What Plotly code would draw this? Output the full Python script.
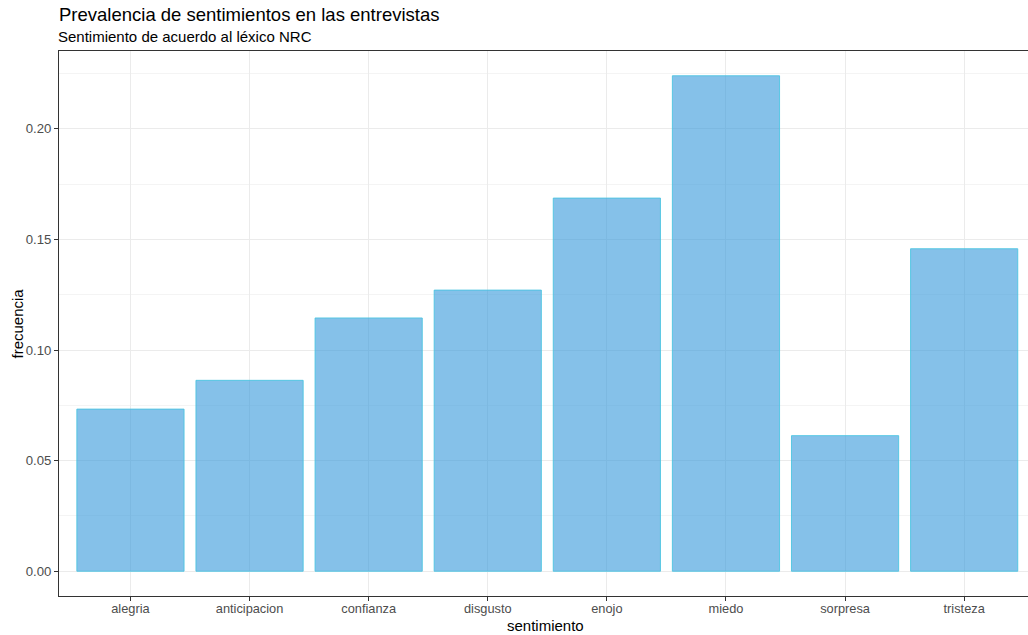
import plotly.graph_objects as go

categorias = ["alegria", "anticipacion", "confianza", "disgusto", "enojo", "miedo", "sorpresa", "tristeza"]
frecuencia = [0.0733, 0.0863, 0.1145, 0.1271, 0.1687, 0.2240, 0.0613, 0.1458]
y_ticks = [0.00, 0.05, 0.10, 0.15, 0.20]
y_ticklabels = ["0.00", "0.05", "0.10", "0.15", "0.20"]

FONT = "Liberation Sans, Arial, sans-serif"
W, H = 1040, 635   # panel runs past the 1028px window, as in the reference
L, T = 59, 51
PB = 596  # panel bottom in px
B = H - PB
PH = H - T - B
PW = W - L
STEP = 119.1  # px per category

fig = go.Figure()
fig.add_trace(go.Bar(
    x=categorias, y=frecuencia, width=0.9,
    marker=dict(color="rgba(52,152,219,0.6)",
                line=dict(color="rgba(70,195,225,0.85)", width=1)),
))

fig.update_layout(
    width=W, height=H,
    margin=dict(l=L, r=0, t=T, b=B, autoexpand=False),
    paper_bgcolor="white", plot_bgcolor="white",
    showlegend=False,
    font=dict(family=FONT, color="#4D4D4D"),
    title=dict(text="Prevalencia de sentimientos en las entrevistas",
               font=dict(size=18.5, color="black", family=FONT),
               x=L/W, xanchor="left", xref="container",
               y=1-15/H, yanchor="middle", yref="container"),
    annotations=[
        dict(text="Sentimiento de acuerdo al léxico NRC",
             xref="paper", yref="paper", x=-3/PW, y=1+(T-37)/PH,
             xanchor="left", yanchor="middle", showarrow=False,
             font=dict(size=15, color="black", family=FONT)),
        dict(text="sentimiento", xref="paper", yref="paper",
             x=(545-L)/PW, y=-(625-PB)/PH,
             xanchor="center", yanchor="middle", showarrow=False,
             font=dict(size=15, color="black", family=FONT)),
        dict(text="frecuencia", xref="paper", yref="paper",
             x=-(L-17)/PW, y=0.5, textangle=-90,
             xanchor="center", yanchor="middle", showarrow=False,
             font=dict(size=15, color="black", family=FONT)),
    ],
)

fig.update_xaxes(
    range=[-0.6, -0.6 + PW/STEP], type="category", automargin=False,
    showgrid=True, gridcolor="#EBEBEB", gridwidth=1,
    showline=True, linecolor="#333333", linewidth=1, mirror=True,
    ticks="outside", ticklen=4, tickcolor="#333333",
    tickfont=dict(size=12.8, color="#4D4D4D"),
    ticklabelstandoff=-3,
    zeroline=False,
)
fig.update_yaxes(
    range=[-0.0112, 0.2352], automargin=False,
    tickvals=y_ticks, ticktext=y_ticklabels,
    showgrid=True, gridcolor="#EBEBEB", gridwidth=1,
    minor=dict(tickvals=[0.025, 0.075, 0.125, 0.175, 0.225], showgrid=True, gridcolor="#F4F4F4", gridwidth=0.6),
    showline=True, linecolor="#333333", linewidth=1, mirror=False,
    ticks="outside", ticklen=4, tickcolor="#333333",
    tickfont=dict(size=13.2, color="#4D4D4D"),
    zeroline=False,
)

fig.write_html("out.html",
               config={"displayModeBar": False},
               post_script="document.body.style.margin='0';document.body.style.overflow='hidden';")
